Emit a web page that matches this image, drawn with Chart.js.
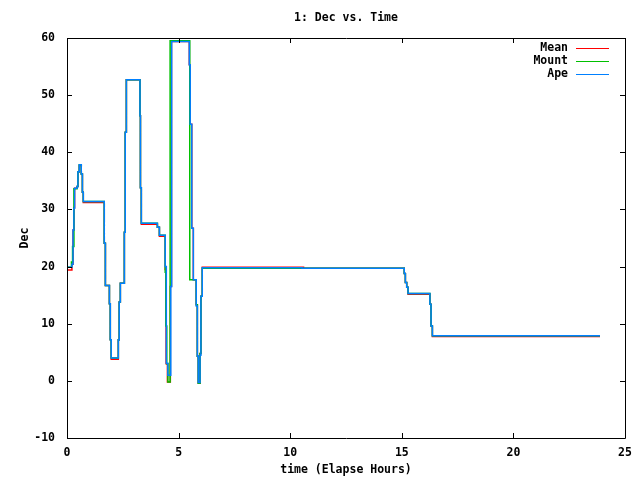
<!DOCTYPE html>
<html>
<head>
<meta charset="utf-8">
<script src="https://cdn.jsdelivr.net/npm/chart.js@4"></script>
<style>
  html, body { margin: 0; padding: 0; background: #fff; }
  canvas { display: block; }
</style>
</head>
<body>
<canvas id="decChart" width="640" height="480"></canvas>
<script>
// Data (time in elapsed hours, Dec in degrees)
const xTicks = [0, 5, 10, 15, 20, 25];
const yTicks = [-10, 0, 10, 20, 30, 40, 50, 60];

const meanTime = [0, 0.22, 0.27, 0.31, 0.34, 0.45, 0.49, 0.55, 0.64, 0.69, 0.73, 1.67, 1.72, 1.90, 1.94, 1.98, 2.30, 2.34, 2.39, 2.57, 2.61, 2.66, 3.27, 3.29, 3.33, 4.05, 4.14, 4.40, 4.44, 4.50, 4.63, 4.68, 5.48, 5.52, 5.59, 5.66, 5.79, 5.84, 5.88, 5.96, 6.00, 6.06, 10.60, 15.11, 15.16, 15.22, 15.28, 16.26, 16.31, 16.37, 23.88];
const meanDec = [19.4, 20.4, 26.4, 30.3, 33.7, 34.0, 36.6, 37.7, 36.2, 33.0, 31.2, 24.1, 16.7, 13.5, 7.2, 3.8, 7.2, 13.8, 17.1, 26.0, 43.5, 52.7, 46.4, 33.8, 27.4, 26.9, 25.3, 19.5, 3.0, -0.2, 16.5, 59.4, 55.3, 44.9, 26.7, 17.7, 13.3, 4.3, -0.4, 4.8, 14.8, 19.9, 19.7, 18.8, 17.2, 16.4, 15.15, 13.4, 9.6, 7.75, 7.75];

const mountTime = [0, 0.20, 0.25, 0.31, 0.45, 0.49, 0.55, 0.64, 0.69, 0.73, 1.67, 1.72, 1.90, 1.94, 1.98, 2.30, 2.34, 2.39, 2.57, 2.61, 2.66, 3.27, 3.29, 3.33, 4.05, 4.14, 4.40, 4.43, 4.47, 4.52, 4.62, 5.50, 5.79, 5.84, 5.88, 5.96, 6.00, 6.06, 10.60, 15.11, 15.16, 15.22, 15.28, 16.26, 16.31, 16.37, 23.88];
const mountDec = [19.9, 20.8, 23.5, 33.6, 34.0, 36.6, 37.8, 36.2, 33.0, 31.4, 24.1, 16.7, 13.5, 7.2, 4.0, 7.2, 13.8, 17.1, 26.0, 43.5, 52.7, 46.4, 33.8, 27.6, 26.9, 25.5, 19.0, 9.6, 3.0, -0.2, 59.5, 17.7, 13.3, 4.3, -0.4, 4.8, 14.8, 19.7, 19.7, 18.8, 17.2, 16.4, 15.3, 13.4, 9.6, 7.9, 7.9];

const apeTime = [0, 0.22, 0.27, 0.31, 0.34, 0.45, 0.49, 0.55, 0.64, 0.69, 0.73, 1.67, 1.72, 1.90, 1.94, 1.98, 2.30, 2.34, 2.39, 2.57, 2.61, 2.66, 3.27, 3.29, 3.33, 4.05, 4.14, 4.40, 4.45, 4.52, 4.65, 4.69, 5.48, 5.52, 5.59, 5.66, 5.79, 5.84, 5.88, 5.96, 6.00, 6.06, 10.53, 15.11, 15.16, 15.22, 15.28, 16.26, 16.31, 16.37, 23.88];
const apeDec = [19.9, 20.4, 26.4, 30.2, 33.7, 34.0, 36.6, 37.8, 36.2, 33.0, 31.4, 24.1, 16.7, 13.5, 7.2, 4.0, 7.2, 13.8, 17.1, 26.0, 43.5, 52.7, 46.4, 33.8, 27.6, 26.9, 25.5, 20.0, 3.1, 1.0, 16.5, 59.4, 55.3, 44.9, 26.7, 17.7, 13.1, 4.3, -0.3, 4.5, 14.8, 19.8, 19.7, 18.8, 17.2, 16.4, 15.3, 13.4, 9.6, 7.9, 7.9];

const seriesNames = ['Mean', 'Mount', 'Ape'];
const seriesColors = ['#ff0000', '#00c000', '#0080ff'];

const FONT = '"DejaVu Sans Mono", "Liberation Mono", monospace';

function toPoints(times, values) {
    return times.map((t, i) => ({ x: t, y: values[i] }));
}

// gnuplot-like frame, inward ticks, title and legend
const gnuplotFrame = {
    id: 'gnuplotFrame',
    afterDraw(chart) {
        const ctx = chart.ctx;
        const a = chart.chartArea;
        const xs = chart.scales.x;
        const ys = chart.scales.y;
        const tl = 5;
        ctx.save();
        ctx.strokeStyle = '#000';
        ctx.lineWidth = 1;
        ctx.beginPath();
        ctx.rect(Math.round(a.left) + 0.5, Math.round(a.top) + 0.5,
                 Math.round(a.right - a.left), Math.round(a.bottom - a.top));
        xTicks.forEach(v => {
            const px = Math.round(xs.getPixelForValue(v)) + 0.5;
            ctx.moveTo(px, a.bottom); ctx.lineTo(px, a.bottom - tl);
            ctx.moveTo(px, a.top); ctx.lineTo(px, a.top + tl);
        });
        yTicks.forEach(v => {
            const py = Math.round(ys.getPixelForValue(v)) + 0.5;
            ctx.moveTo(a.left, py); ctx.lineTo(a.left + tl, py);
            ctx.moveTo(a.right, py); ctx.lineTo(a.right - tl, py);
        });
        ctx.stroke();

        // title
        ctx.fillStyle = '#000';
        ctx.font = 'bold 11.5px ' + FONT;
        ctx.textAlign = 'center';
        ctx.textBaseline = 'middle';
        ctx.fillText('1: Dec vs. Time', (a.left + a.right) / 2, 18);

        // legend (text then line sample, top right)
        ctx.textAlign = 'right';
        seriesNames.forEach((name, i) => {
            const y = 48 + i * 13;
            ctx.fillStyle = '#000';
            ctx.fillText(name, 568, y);
            ctx.strokeStyle = seriesColors[i];
            ctx.beginPath();
            ctx.moveTo(576, Math.round(y) + 0.5);
            ctx.lineTo(609, Math.round(y) + 0.5);
            ctx.stroke();
        });
        ctx.restore();
    }
};

const ctx = document.getElementById('decChart').getContext('2d');
new Chart(ctx, {
    type: 'line',
    data: {
        datasets: [
            { label: 'Mean', data: toPoints(meanTime, meanDec), borderColor: seriesColors[0], order: 2 },
            { label: 'Mount', data: toPoints(mountTime, mountDec), borderColor: seriesColors[1], order: 1 },
            { label: 'Ape', data: toPoints(apeTime, apeDec), borderColor: seriesColors[2], order: 0 }
        ]
    },
    options: {
        responsive: false,
        animation: false,
        events: [],
        elements: {
            line: { borderWidth: 1.5, stepped: true, tension: 0, fill: false },
            point: { radius: 0 }
        },
        layout: { padding: { top: 38, right: 15, left: 0, bottom: 0 } },
        plugins: {
            legend: { display: false },
            title: { display: false },
            tooltip: { enabled: false }
        },
        scales: {
            x: {
                type: 'linear',
                min: 0,
                max: 25,
                grid: { display: false, drawTicks: false },
                border: { display: false },
                afterBuildTicks: scale => { scale.ticks = xTicks.map(v => ({ value: v })); },
                afterFit: scale => { scale.height = 42; },
                ticks: { color: '#000', padding: 8, maxRotation: 0, font: { family: FONT, size: 11.5, weight: 'bold' } },
                title: { display: true, text: 'time (Elapse Hours)', color: '#000', padding: { top: 0, bottom: 3 }, font: { family: FONT, size: 11.5, weight: 'bold' } }
            },
            y: {
                type: 'linear',
                min: -10,
                max: 60,
                grid: { display: false, drawTicks: false },
                border: { display: false },
                afterBuildTicks: scale => { scale.ticks = yTicks.map(v => ({ value: v })); },
                afterFit: scale => { scale.width = 67; },
                ticks: { color: '#000', padding: 12, font: { family: FONT, size: 11.5, weight: 'bold' } },
                title: { display: true, text: 'Dec', color: '#000', padding: { top: 18, bottom: 0 }, font: { family: FONT, size: 11.5, weight: 'bold' } }
            }
        }
    },
    plugins: [gnuplotFrame]
});
</script>
</body>
</html>
